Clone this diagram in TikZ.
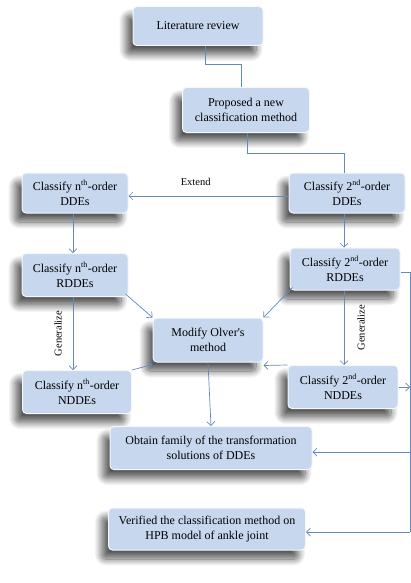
\documentclass[tikz,border=0pt]{standalone}
\usepackage{fontspec}
\setmainfont{Liberation Serif}
\usepackage{tikz}
\usetikzlibrary{positioning}
\usetikzlibrary{calc}
\usetikzlibrary{arrows.meta}
\usetikzlibrary{shadows.blur}
\definecolor{box colour}{HTML}{C6D7EE}
\definecolor{line colour}{HTML}{6489BF}
\colorlet{rim colour}{white!80!box colour}
\tikzset{
    % Thin open tips, the way the flow lines end
    >={Straight Barb[length=4pt, width=8pt]},
%
    % Lines between the steps
    link/.style={draw, color=line colour, text=black, line width=0.7pt},
    flow/.style={link, ->},
%
    % Rounded steps with a soft shadow falling down-left
    box/.style={
        draw=rim colour, line width=1pt, fill=box colour,
        rectangle, rounded corners=4pt, align=center,
        minimum width=108pt, minimum height=43pt, inner sep=2pt,
        font=\fontsize{12}{15.5}\selectfont,
        blur shadow={shadow xshift=-7pt, shadow yshift=-9pt,
            shadow blur radius=7pt, shadow blur steps=12,
            shadow opacity=65}},
%
    side label/.style={font=\fontsize{10.5}{12}\selectfont, inner sep=1pt},
}

\begin{document}
\begin{tikzpicture}[
    x=1pt, y=-1pt]

\useasboundingbox (0,0) rectangle (411,583);

\path
    (198,26) node [box, minimum width=130pt, minimum height=39pt]
        (literature) {Literature review}
    ++(48,84) node [box, minimum width=127pt, minimum height=45pt]
        (proposed) {Proposed a new\\classification method}
    (75,193) node [box, minimum width=106pt, minimum height=40pt]
        (dde n) {Classify n\textsuperscript{th}-order\\DDEs}
    ++(272,0) node [box, minimum width=116pt, minimum height=40pt]
        (dde 2) {Classify 2\textsuperscript{nd}-order\\DDEs}
    (75,275) node [box, minimum width=106pt]
        (rdde n) {Classify n\textsuperscript{th}-order\\RDDEs}
    (345,269) node [box, minimum width=110pt, minimum height=42pt]
        (rdde 2) {Classify 2\textsuperscript{nd}-order\\RDDEs}
    (208,340) node [box, minimum width=110pt, minimum height=44pt]
        (olver) {Modify Olver\textquotesingle s\\method}
    (77,392) node [box, minimum width=109pt]
        (ndde n) {Classify n\textsuperscript{th}-order\\NDDEs}
    (343,387) node [box, minimum width=110pt]
        (ndde 2) {Classify 2\textsuperscript{nd}-order\\NDDEs}
    (211,448) node [box, minimum width=202pt]
        (family) {Obtain family of the transformation\\solutions of DDEs}
    (207,529) node [box, minimum width=197pt, minimum height=42pt]
        (verified) {Verified the classification method on\\HPB model of ankle joint};

% Rail down the right-hand side
\coordinate (rail top) at (410,272);
\coordinate (rail bottom) at (410,532);

\draw [link] ([xshift=7pt]literature.south) -- ++(0,18)
    -| ([xshift=-5pt]proposed.north);
\draw [link] ([xshift=1pt]proposed.south) -- ++(0,20)
    -| ([xshift=-3pt]dde 2.north);
\draw [flow] ([yshift=-3pt]dde 2.west) -- ([yshift=-3pt]dde n.east)
    node [pos=0.58, above=9pt, side label] {Extend};
\draw [flow] ([xshift=-2pt]dde n.south) -- ([xshift=-2pt]rdde n.north);
\draw [flow] ([xshift=-3pt]dde 2.south) -- ([xshift=-1pt]rdde 2.north);
\draw [flow] ([xshift=-2pt]rdde n.south) -- ([xshift=-4pt]ndde n.north)
    node [midway, left=10pt, rotate=90, anchor=south, side label] {Generalize};
\draw [flow] ([xshift=-1pt]rdde 2.south) -- ([xshift=1pt]ndde 2.north)
    node [midway, right=12pt, rotate=90, anchor=north, side label] {Generalize};
\draw [flow] ([shift={(-3pt,3pt)}]rdde n.south east) -- (olver.north west);
\draw [flow] ([shift={(3pt,3pt)}]rdde 2.south west) -- (olver.north east);
\draw [flow] (ndde n.north east) -- ([yshift=-2pt]olver.south west);
\draw [flow] (ndde 2.north west) -- ([yshift=-3pt]olver.south east);
\draw [flow] (olver.south) -- (family.north);
\draw [link] ([yshift=-3pt]rdde 2.east) -- (rail top) -- (rail bottom);
\draw [flow] (ndde 2.east) -- (ndde 2.east -| rail top);
\draw [flow] ([yshift=-4pt]family.east -| rail top) -- ([yshift=-4pt]family.east);
\draw [flow] (rail bottom) -- (rail bottom -| verified.east);

\end{tikzpicture}
\end{document}
